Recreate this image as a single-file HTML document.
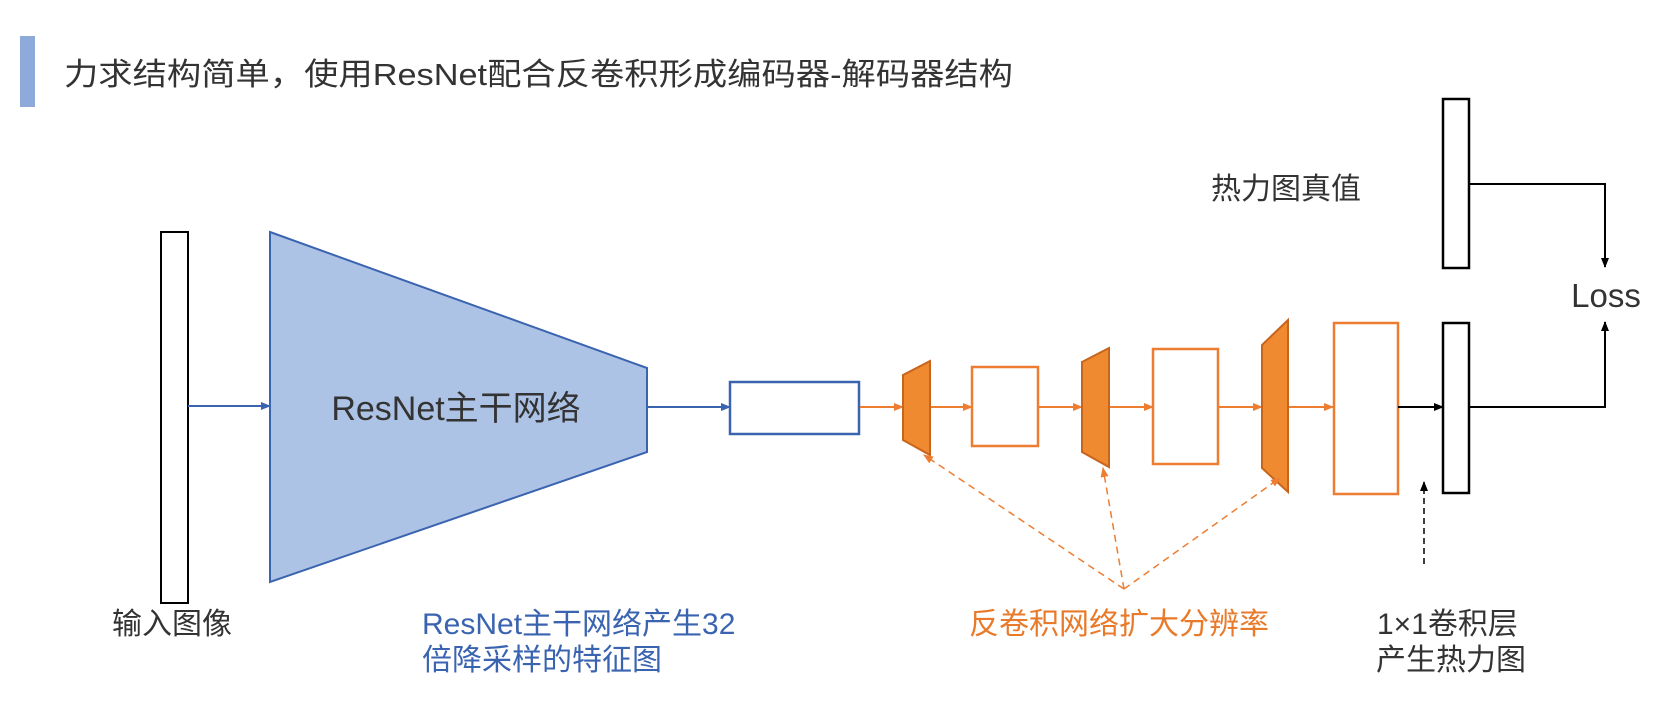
<!DOCTYPE html>
<html><head><meta charset="utf-8"><style>
html,body{margin:0;padding:0;background:#fff;overflow:hidden;}
svg{display:block;}
text{font-family:"Liberation Sans","Noto Sans CJK SC",sans-serif;}
</style></head><body>
<svg width="1666" height="724" viewBox="0 0 1666 724" xmlns="http://www.w3.org/2000/svg">
<defs>
<marker id="ab" markerWidth="10" markerHeight="10" refX="9" refY="5" orient="auto" markerUnits="userSpaceOnUse"><path d="M0,1 L10,5 L0,9 z" fill="#3b64b0"/></marker>
<marker id="ao" markerWidth="10" markerHeight="10" refX="9" refY="5" orient="auto" markerUnits="userSpaceOnUse"><path d="M0,1 L10,5 L0,9 z" fill="#ed7d31"/></marker>
<marker id="ak" markerWidth="10" markerHeight="10" refX="9" refY="5" orient="auto" markerUnits="userSpaceOnUse"><path d="M0,1 L10,5 L0,9 z" fill="#000"/></marker>
</defs>

<rect x="20" y="36" width="15" height="71" fill="#8eaadb"/>
<text x="64" y="85" font-size="31" fill="#333" textLength="949" lengthAdjust="spacingAndGlyphs">力求结构简单，使用ResNet配合反卷积形成编码器-解码器结构</text>

<!-- input -->
<rect x="161" y="232" width="27" height="371" fill="#fff" stroke="#000" stroke-width="2"/>
<line x1="188" y1="406" x2="270" y2="406" stroke="#3b64b0" stroke-width="2" marker-end="url(#ab)"/>
<polygon points="270,232 647,368 647,452 270,582" fill="#adc3e6" stroke="#3b64b0" stroke-width="2"/>
<text x="456" y="420" font-size="34" fill="#333" text-anchor="middle">ResNet主干网络</text>
<line x1="647" y1="407" x2="730" y2="407" stroke="#3b64b0" stroke-width="2" marker-end="url(#ab)"/>
<rect x="730" y="382" width="129" height="52" fill="#fff" stroke="#3b64b0" stroke-width="2.5"/>

<!-- orange -->
<g stroke="#ed7d31" stroke-width="2" marker-end="url(#ao)">
<line x1="860" y1="407" x2="903" y2="407"/>
<line x1="930" y1="407" x2="972" y2="407"/>
<line x1="1038" y1="407" x2="1082" y2="407"/>
<line x1="1109" y1="407" x2="1153" y2="407"/>
<line x1="1218" y1="407" x2="1262" y2="407"/>
<line x1="1288" y1="407" x2="1333" y2="407"/>
</g>
<g fill="#f08a30" stroke="#c8651d" stroke-width="2">
<polygon points="903,375 930,361 930,455 903,440"/>
<polygon points="1082,362 1109,348 1109,467 1082,452"/>
<polygon points="1262,345 1288,320 1288,492 1262,468"/>
</g>
<g fill="#fff" stroke="#ed7d31" stroke-width="2.5">
<rect x="972" y="367" width="66" height="79"/>
<rect x="1153" y="349" width="65" height="115"/>
<rect x="1334" y="323" width="64" height="171"/>
</g>
<g stroke="#ed7d31" stroke-width="1.5" stroke-dasharray="7,5" fill="none" marker-end="url(#ao)">
<line x1="1124" y1="589" x2="924" y2="455"/>
<line x1="1124" y1="589" x2="1103" y2="468"/>
<line x1="1124" y1="589" x2="1280" y2="478"/>
</g>

<!-- black -->
<line x1="1398" y1="407" x2="1443" y2="407" stroke="#000" stroke-width="2" marker-end="url(#ak)"/>
<rect x="1443" y="99" width="26" height="169" fill="#fff" stroke="#000" stroke-width="2.5"/>
<rect x="1443" y="323" width="26" height="170" fill="#fff" stroke="#000" stroke-width="2.5"/>
<polyline points="1469,184 1605,184 1605,267" fill="none" stroke="#000" stroke-width="2" marker-end="url(#ak)"/>
<polyline points="1469,407 1605,407 1605,322" fill="none" stroke="#000" stroke-width="2" marker-end="url(#ak)"/>
<line x1="1424" y1="564" x2="1424" y2="482" stroke="#000" stroke-width="1.5" stroke-dasharray="6,4" marker-end="url(#ak)"/>
<text x="1606" y="307" font-size="33" fill="#333" text-anchor="middle">Loss</text>

<!-- labels -->
<text x="1211" y="199" font-size="30" fill="#333">热力图真值</text>
<text x="112" y="634" font-size="30" fill="#333">输入图像</text>
<text x="422" y="634" font-size="30" fill="#3b64b0">ResNet主干网络产生32</text>
<text x="422" y="670" font-size="30" fill="#3b64b0">倍降采样的特征图</text>
<text x="969" y="634" font-size="30" fill="#e87a2a">反卷积网络扩大分辨率</text>
<text x="1377" y="634" font-size="30" fill="#333">1×1卷积层</text>
<text x="1376" y="670" font-size="30" fill="#333">产生热力图</text>
</svg>
</body></html>
